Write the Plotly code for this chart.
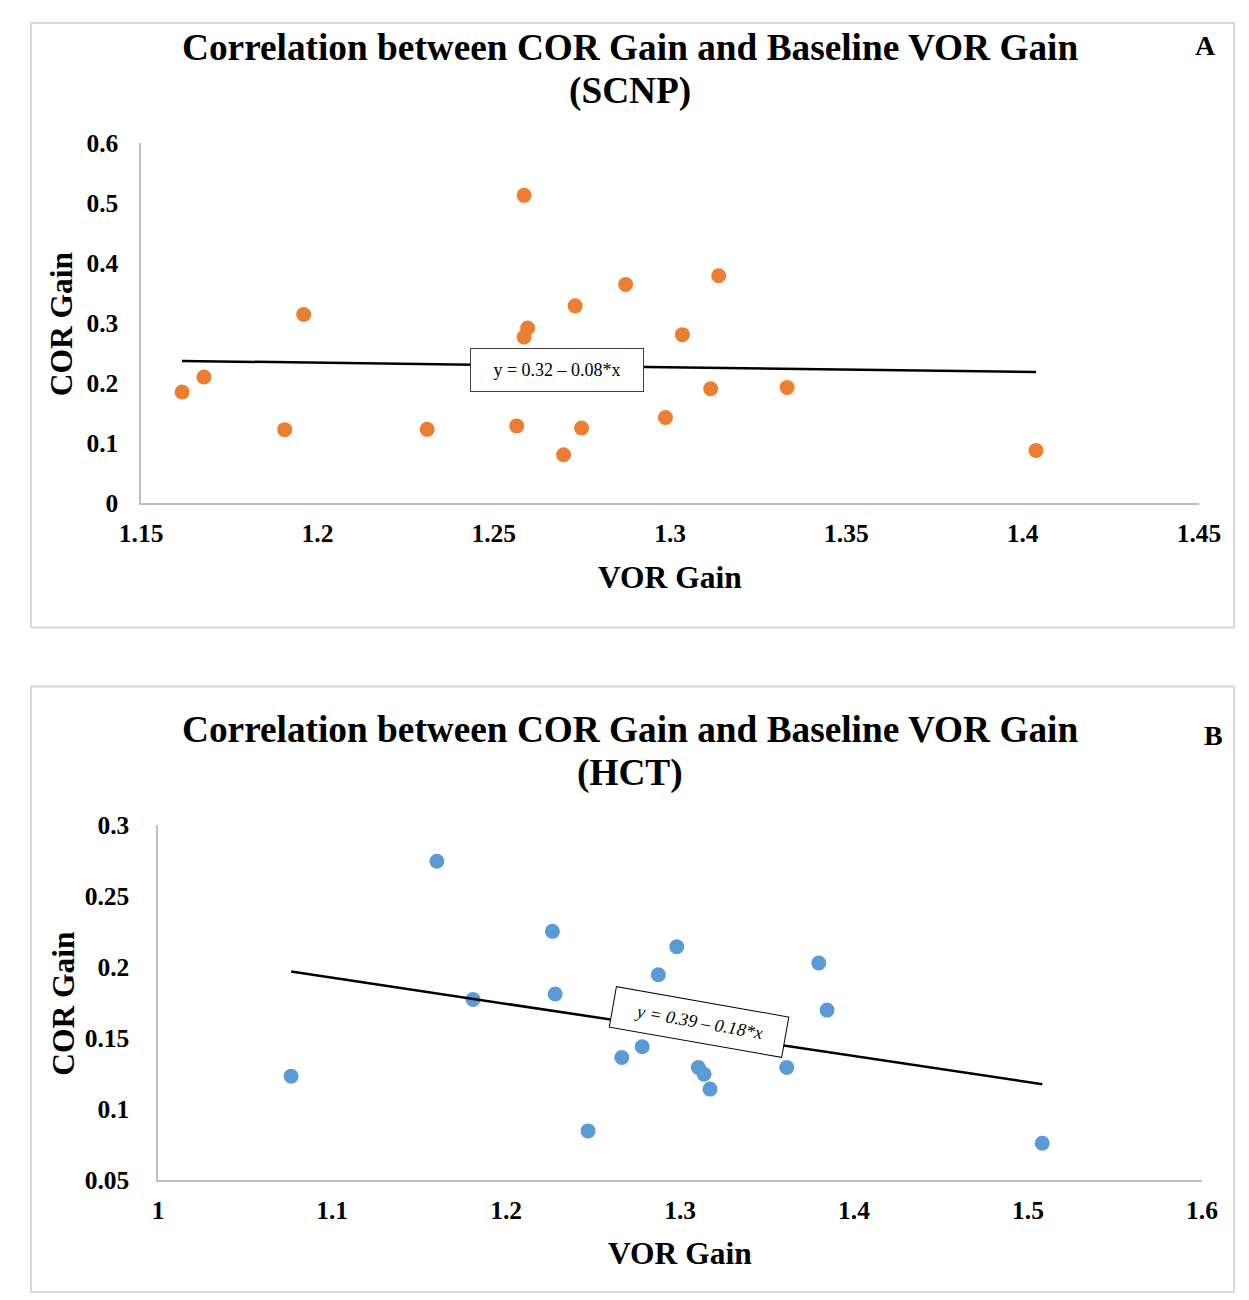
import plotly.graph_objects as go

# ---------------- data ----------------
# Panel A (SCNP)
scnp_vor = [1.2586, 1.1961, 1.2596, 1.2586, 1.1678, 1.1616, 1.1907, 1.2311, 1.2565,
            1.3138, 1.2874, 1.2731, 1.3035, 1.3115, 1.3332, 1.2987, 1.2749, 1.2698, 1.4038]
scnp_cor = [0.513, 0.3145, 0.292, 0.277, 0.2105, 0.1855, 0.1228, 0.1233, 0.129,
            0.379, 0.3645, 0.329, 0.281, 0.191, 0.193, 0.143, 0.1255, 0.081, 0.088]
scnp_intercept = 0.3255
scnp_slope = -0.076
scnp_eq = "y = 0.32 – 0.08*x"

# Panel B (HCT)
hct_vor = [1.1602, 1.2266, 1.1810, 1.2282, 1.0764, 1.2665, 1.2782, 1.2471, 1.2981,
           1.2875, 1.3797, 1.3845, 1.3105, 1.3138, 1.3172, 1.3613, 1.5082]
hct_cor = [0.2742, 0.2249, 0.177, 0.1808, 0.123, 0.1361, 0.1437, 0.0845, 0.2141,
           0.1944, 0.2026, 0.1695, 0.1291, 0.1244, 0.1139, 0.1291, 0.0758]
hct_intercept = 0.3941
hct_slope = -0.1835
hct_eq = "y = 0.39 – 0.18*x"

a_xticks = [1.15, 1.2, 1.25, 1.3, 1.35, 1.4, 1.45]
a_xticktext = ["1.15", "1.2", "1.25", "1.3", "1.35", "1.4", "1.45"]
a_yticks = [0, 0.1, 0.2, 0.3, 0.4, 0.5, 0.6]
a_yticktext = ["0", "0.1", "0.2", "0.3", "0.4", "0.5", "0.6"]
b_xticks = [1.0, 1.1, 1.2, 1.3, 1.4, 1.5, 1.6]
b_xticktext = ["1", "1.1", "1.2", "1.3", "1.4", "1.5", "1.6"]
b_yticks = [0.05, 0.1, 0.15, 0.2, 0.25, 0.3]
b_yticktext = ["0.05", "0.1", "0.15", "0.2", "0.25", "0.3"]

title_main = "Correlation between COR Gain and Baseline VOR Gain"
title_a2 = "(SCNP)"
title_b2 = "(HCT)"
x_title = "VOR Gain"
y_title = "COR Gain"

# ---------------- figure ----------------
W, H = 1249, 1300
# where the figure's paper area actually lands in the photographed page
OX, OY, FW, FH = 31, 22, 1203, 1270
FONT = "Times New Roman, Liberation Serif, serif"
ORANGE = "#ED7D31"
BLUE = "#5B9BD5"
AXIS_GRAY = "#bfbfbf"
BOX_GRAY = "#d9d9d9"


def px(x):
    return min(max((x - OX) / FW, 0.0008), 0.9992)


def py(y):
    return min(max(1 - (y - OY) / FH, 0.0008), 0.9992)


fig = go.Figure()

fig.add_trace(go.Scatter(x=scnp_vor, y=scnp_cor, mode="markers",
                         marker=dict(color=ORANGE, size=15, line=dict(width=0)),
                         xaxis="x", yaxis="y", showlegend=False))
a_x = [min(scnp_vor), max(scnp_vor)]
fig.add_trace(go.Scatter(x=a_x, y=[scnp_intercept + scnp_slope * v for v in a_x],
                         mode="lines", line=dict(color="black", width=2.5),
                         xaxis="x", yaxis="y", showlegend=False))

fig.add_trace(go.Scatter(x=hct_vor, y=hct_cor, mode="markers",
                         marker=dict(color=BLUE, size=15, line=dict(width=0)),
                         xaxis="x2", yaxis="y2", showlegend=False))
b_x = [min(hct_vor), max(hct_vor)]
fig.add_trace(go.Scatter(x=b_x, y=[hct_intercept + hct_slope * v for v in b_x],
                         mode="lines", line=dict(color="black", width=2.5),
                         xaxis="x2", yaxis="y2", showlegend=False))

tickfont = dict(family=FONT, size=25.5, color="black", weight="bold")
common_axis = dict(showgrid=False, zeroline=False, showline=True, linecolor=AXIS_GRAY,
                   linewidth=1.5, ticks="", tickfont=tickfont, fixedrange=True)

fig.update_layout(
    width=W, height=H,
    autosize=False,
    margin=dict(l=0, r=0, t=0, b=0, pad=0),
    paper_bgcolor="white", plot_bgcolor="white",
    showlegend=False,
    xaxis=dict(domain=[px(142), px(1198)], range=[1.15, 1.45], anchor="y",
               tickvals=a_xticks, ticktext=a_xticktext, ticklabelstandoff=6, **common_axis),
    yaxis=dict(domain=[py(503), py(143)], range=[0, 0.6], anchor="x",
               tickvals=a_yticks, ticktext=a_yticktext, ticklabelstandoff=16, **common_axis),
    xaxis2=dict(domain=[px(159), px(1201)], range=[1.0, 1.6], anchor="y2",
                tickvals=b_xticks, ticktext=b_xticktext, ticklabelstandoff=7, **common_axis),
    yaxis2=dict(domain=[py(1179), py(824)], range=[0.05, 0.3], anchor="x2",
                tickvals=b_yticks, ticktext=b_yticktext, ticklabelstandoff=22, **common_axis),
)

# panel borders
fig.add_shape(type="rect", xref="paper", yref="paper", x0=px(8), y0=py(627), x1=px(1248), y1=py(5),
              line=dict(color=BOX_GRAY, width=2), layer="below")
fig.add_shape(type="rect", xref="paper", yref="paper", x0=px(12), y0=py(1299), x1=px(1247), y1=py(686),
              line=dict(color=BOX_GRAY, width=2), layer="below")


def txt(text, x, y, size, angle=0, bold=True):
    fig.add_annotation(text=text, x=px(x), y=py(y), xref="paper", yref="paper",
                       showarrow=False, textangle=angle, xanchor="center", yanchor="middle",
                       font=dict(family=FONT, size=size, color="black",
                                 weight="bold" if bold else "normal"))


# titles
txt(title_main, 630, 47, 37.3)
txt(title_a2, 630, 91, 37.3)
txt("A", 1205, 45, 28)
txt(title_main, 630, 729, 37.3)
txt(title_b2, 630, 772, 37.3)
txt("B", 1213, 735, 28)

# axis titles
txt(x_title, 670, 577, 31.5)
txt(y_title, 62, 324, 31.5, angle=-90)
txt(x_title, 680, 1253, 31.5)
txt(y_title, 65, 1003, 31.5, angle=-90)

# equation boxes
fig.add_annotation(text=scnp_eq, x=1.2679, y=0.2225, xref="x", yref="y", showarrow=False,
                   font=dict(family=FONT, size=18, color="black"),
                   bgcolor="white", bordercolor="#404040", borderwidth=1, borderpad=1,
                   width=170, height=40)
fig.add_annotation(text="<i>" + hct_eq + "</i>", x=1.3107, y=0.161, xref="x2", yref="y2",
                   showarrow=False, textangle=10,
                   font=dict(family=FONT, size=18, color="black"),
                   bgcolor="white", bordercolor="#000000", borderwidth=1, borderpad=1,
                   width=172, height=38)

fig.write_html("out.html")
